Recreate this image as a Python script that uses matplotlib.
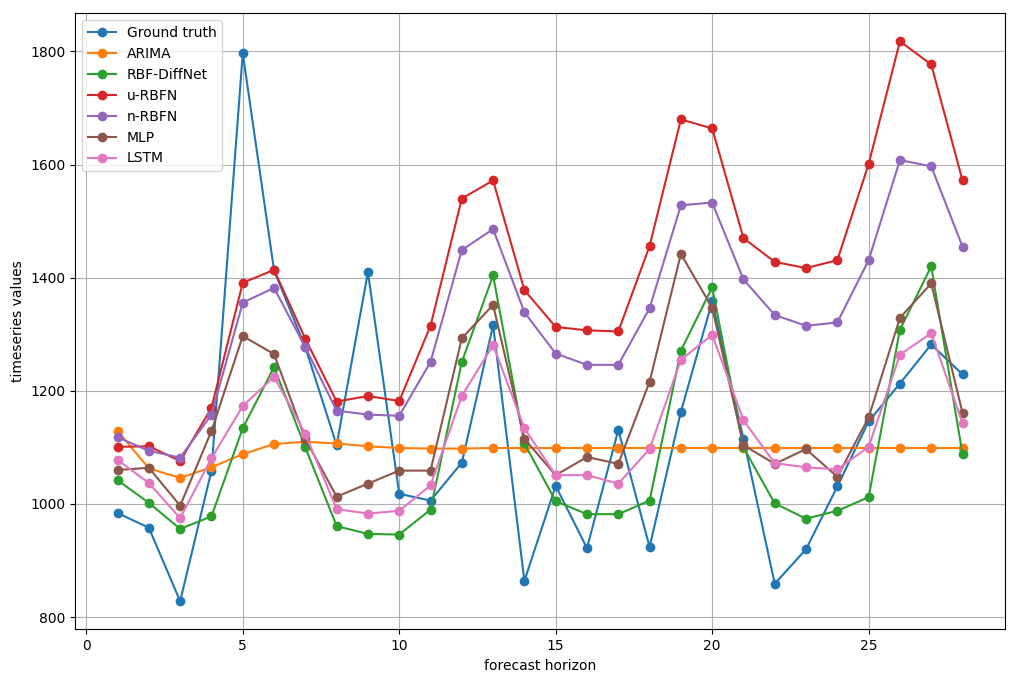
import matplotlib
matplotlib.use("Agg")
import matplotlib.pyplot as plt

horizon = list(range(1, 29))

ground_truth = [984, 958, 828, 1059, 1797, 1413, 1277, 1104, 1410, 1018, 1006, 1073, 1316, 864,
                1032, 922, 1131, 924, 1163, 1358, 1115, 859, 920, 1031, 1146, 1213, 1282, 1229]
arima = [1129, 1063, 1046, 1065, 1088, 1106, 1110, 1107, 1102, 1099, 1098, 1098, 1099, 1099,
         1099, 1099, 1099, 1099, 1099, 1099, 1099, 1099, 1099, 1099, 1099, 1099, 1099, 1099]
rbf_diffnet = [1042, 1002, 956, 978, 1134, 1242, 1100, 961, 947, 946, 990, 1251, 1404, 1107,
               1005, 982, 982, 1006, 1271, 1383, 1100, 1001, 974, 988, 1012, 1308, 1420, 1088]
u_rbfn = [1101, 1102, 1076, 1170, 1391, 1414, 1292, 1181, 1191, 1182, 1315, 1540, 1572, 1378,
          1313, 1307, 1305, 1456, 1680, 1664, 1470, 1428, 1417, 1431, 1601, 1818, 1777, 1572]
n_rbfn = [1118, 1094, 1082, 1158, 1356, 1382, 1277, 1165, 1158, 1156, 1251, 1449, 1486, 1339,
          1266, 1246, 1246, 1346, 1528, 1533, 1397, 1334, 1315, 1321, 1431, 1608, 1597, 1455]
mlp = [1060, 1064, 997, 1129, 1297, 1265, 1115, 1013, 1036, 1059, 1059, 1293, 1352, 1115,
       1051, 1083, 1071, 1216, 1442, 1347, 1104, 1071, 1097, 1048, 1153, 1329, 1390, 1161]
lstm = [1078, 1037, 975, 1081, 1173, 1225, 1124, 991, 983, 988, 1033, 1191, 1281, 1134,
        1051, 1051, 1036, 1097, 1255, 1299, 1148, 1072, 1065, 1061, 1101, 1264, 1302, 1143]

series = [
    ("Ground truth", ground_truth),
    ("ARIMA", arima),
    ("RBF-DiffNet", rbf_diffnet),
    ("u-RBFN", u_rbfn),
    ("n-RBFN", n_rbfn),
    ("MLP", mlp),
    ("LSTM", lstm),
]

fig = plt.figure(figsize=(10.18, 6.82), dpi=100)
ax = fig.add_axes([0.0740, 0.0773, 0.9130, 0.9032])
for name, vals in series:
    ax.plot(horizon, vals, marker="o", label=name)

ax.set_xlabel("forecast horizon")
ax.set_ylabel("timeseries values")
ax.grid(True)
ax.legend(loc="upper left")

fig.savefig("out.png", dpi=100)
